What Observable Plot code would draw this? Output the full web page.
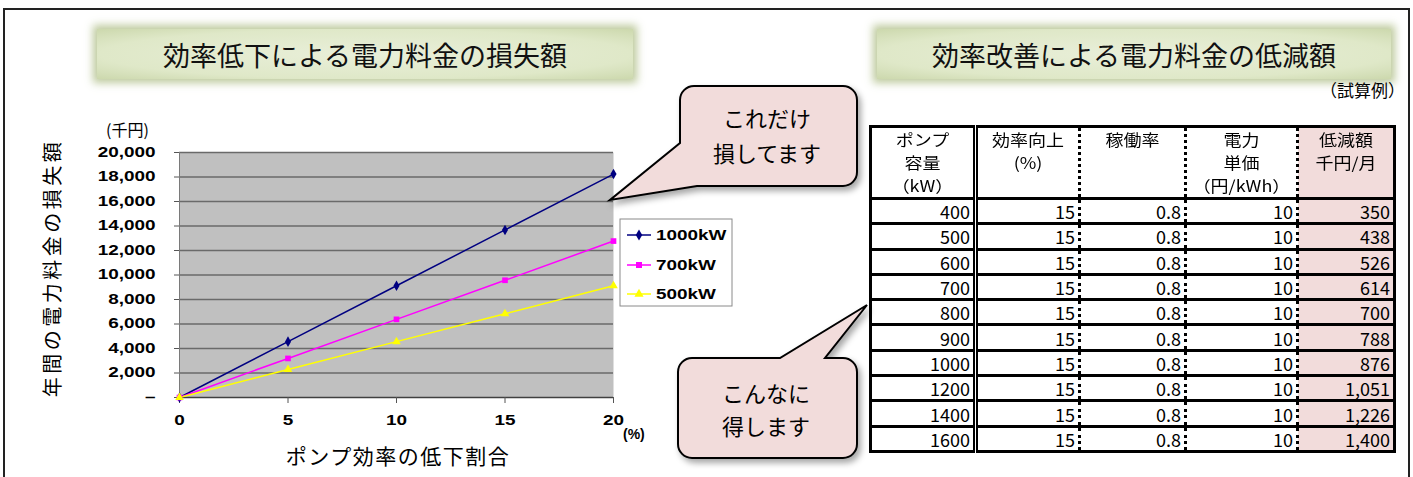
<!DOCTYPE html>
<html><head><meta charset="utf-8">
<script src="https://cdn.jsdelivr.net/npm/d3@7"></script>
<script src="https://cdn.jsdelivr.net/npm/@observablehq/plot@0.6"></script>
<style>
body{margin:0;background:#fff;}
#root{position:relative;width:1413px;height:477px;overflow:hidden;background:#fff;font-family:"Noto Sans CJK JP",sans-serif;}
.frame{position:absolute;left:3px;top:8px;width:1403px;height:500px;border:2px solid #222;}
.tbox{position:absolute;height:50px;background:radial-gradient(ellipse at center,#e9efd9 0%,#dfe8c8 70%,#ccd8ad 100%);box-shadow:0 0 8px 4px rgba(175,190,135,0.8);display:flex;align-items:center;justify-content:center;font-size:27px;color:#111;white-space:nowrap;}
#chart{position:absolute;left:0;top:0;}
#overlay{position:absolute;left:0;top:0;}
table{position:absolute;left:869px;top:125px;border-collapse:collapse;border:3px solid #000;table-layout:fixed;font-family:"Noto Sans CJK JP",sans-serif;}
th{font-weight:normal;font-size:18px;vertical-align:top;text-align:center;padding:0;height:66px;border-bottom:3px solid #000;white-space:nowrap;}
th div{height:23px;line-height:23px;}
th span{display:inline-block;transform:scaleY(0.88);}
td{border-top:3px solid #000;border-bottom:3px solid #000;padding:0 3px 0 0;height:22.3px;font-size:18px;line-height:20px;text-align:right;}
.c1{border-right:5px double #000;}
.c2,.c3,.c4{border-right:3px dotted #000;}
.c5{background:#f2dcdb;}
.note{position:absolute;right:8px;top:77px;font-size:17px;white-space:nowrap;}
</style></head>
<body>
<div id="root">
  <div class="frame"></div>
  <div class="tbox" style="left:97px;top:29px;width:536px;">効率低下による電力料金の損失額</div>
  <div class="tbox" style="left:877px;top:29px;width:514px;">効率改善による電力料金の低減額</div>
  <div class="note">（試算例）</div>
  <div id="chart"></div>
  <svg id="overlay" width="1413" height="477"></svg>
</div>
<script>
// ---- chart data ----
const pct = [0, 5, 10, 15, 20];
const series = ["1000kW", "700kW", "500kW"];
const loss1000 = [0, 4560, 9120, 13680, 18240];
const loss700 = [0, 3190, 6380, 9570, 12770];
const loss500 = [0, 2280, 4560, 6840, 9120];
const yTicks = [0, 2000, 4000, 6000, 8000, 10000, 12000, 14000, 16000, 18000, 20000];
const xTicks = [0, 5, 10, 15, 20];
const seriesColors = ["#000080", "#ff00ff", "#ffff00"];
const seriesSymbols = ["diamond", "square", "triangle"];

// ---- table data ----
const headers = [["ポンプ", "容量", "（kW）"], ["効率向上", "(%)"], ["稼働率"], ["電力", "単価", "（円/kWh）"], ["低減額", "千円/月"]];
const capacity = [400, 500, 600, 700, 800, 900, 1000, 1200, 1400, 1600];
const effUp = [15, 15, 15, 15, 15, 15, 15, 15, 15, 15];
const opRate = ["0.8", "0.8", "0.8", "0.8", "0.8", "0.8", "0.8", "0.8", "0.8", "0.8"];
const unitPrice = [10, 10, 10, 10, 10, 10, 10, 10, 10, 10];
const reduction = [350, 438, 526, 614, 700, 788, 876, 1051, 1226, 1400];
const colWidths = [105, 104, 106, 112, 97];

const lossBySeries = [loss1000, loss700, loss500];
const data = [];
series.forEach((s, i) => pct.forEach((p, j) => data.push({pct: p, loss: lossBySeries[i][j], series: s})));

const chart = Plot.plot({
  width: 760, height: 477,
  marginLeft: 179, marginRight: 147, marginTop: 152, marginBottom: 80,
  x: {domain: [0, 20]},
  y: {domain: [0, 20000]},
  color: {domain: series, range: seriesColors},
  symbol: {domain: series, range: seriesSymbols},
  style: {fontFamily: "'Liberation Sans', Arial, sans-serif", fontWeight: "bold", fontSize: "14px", color: "#000", background: "transparent"},
  marks: [
    Plot.frame({fill: "#c0c0c0", stroke: "none"}),
    Plot.ruleY(yTicks.filter(d => d > 0), {stroke: "#6a6a6a", strokeWidth: 1.4}),
    Plot.ruleX([0], {stroke: "#7a7a7a", strokeWidth: 1}),
    Plot.ruleY([0], {stroke: "#404040", strokeWidth: 1.5}),
    Plot.axisY({ticks: yTicks, tickSize: 5, tickPadding: 19, stroke: "#555", tickFormat: d => d === 0 ? "–" : d3.format(",")(d), label: null}),
    Plot.axisX({ticks: xTicks, tickSize: 6, tickPadding: 12, stroke: "#555", label: null}),
    Plot.line(data, {x: "pct", y: "loss", stroke: "series", z: "series", strokeWidth: 1.5}),
    Plot.dot(data, {x: "pct", y: "loss", fill: "series", symbol: "series", r: 3.2, stroke: "none"})
  ]
});
document.getElementById("chart").appendChild(chart);

function stretch(nodes, k) {
  nodes.forEach(t => {
    const L = t.getComputedTextLength();
    if (L > 0) { t.setAttribute("textLength", L * k); t.setAttribute("lengthAdjust", "spacingAndGlyphs"); }
  });
}
stretch(chart.querySelectorAll('g[aria-label="y-axis tick label"] text, g[aria-label="x-axis tick label"] text'), 1.35);

// ---- overlay: labels, legend, callouts ----
const ov = d3.select("#overlay");
const defs = ov.append("defs");
const f = defs.append("filter").attr("id", "sh").attr("x", "-20%").attr("y", "-20%").attr("width", "150%").attr("height", "150%");
f.append("feDropShadow").attr("dx", 3).attr("dy", 4).attr("stdDeviation", 3).attr("flood-color", "#000").attr("flood-opacity", 0.35);

ov.append("text").attr("x", 106).attr("y", 136).attr("font-size", 16).attr("font-family", "'Noto Sans CJK JP'").text("(千円)");
ov.append("text").attr("transform", "translate(60,268) rotate(-90)").attr("text-anchor", "middle")
  .attr("font-size", 20).attr("letter-spacing", 3.5).attr("font-family", "'Noto Sans CJK JP'").text("年間の電力料金の損失額");
ov.append("text").attr("x", 398).attr("y", 464).attr("text-anchor", "middle")
  .attr("font-size", 21).attr("letter-spacing", 1.5).attr("font-family", "'Noto Sans CJK JP'").text("ポンプ効率の低下割合");
ov.append("text").attr("x", 623).attr("y", 439).attr("font-size", 14).attr("font-weight", "bold")
  .attr("font-family", "'Liberation Sans', Arial").text("(%)");

// legend
const lg = ov.append("g");
lg.append("rect").attr("x", 620).attr("y", 219).attr("width", 112).attr("height", 87).attr("fill", "#fff").attr("stroke", "#8a8a8a");
const legY = [235, 265, 294];
const symGen = {diamond: d3.symbolDiamond, square: d3.symbolSquare, triangle: d3.symbolTriangle};
const legTexts = [];
series.forEach((s, i) => {
  lg.append("line").attr("x1", 627).attr("x2", 651).attr("y1", legY[i]).attr("y2", legY[i]).attr("stroke", seriesColors[i]).attr("stroke-width", 1.5);
  lg.append("path").attr("d", d3.symbol(symGen[seriesSymbols[i]], 36)()).attr("transform", `translate(639,${legY[i]})`).attr("fill", seriesColors[i]);
  legTexts.push(lg.append("text").attr("x", 656).attr("y", legY[i] + 5).attr("font-size", 14).attr("font-weight", "bold")
    .attr("font-family", "'Liberation Sans', Arial").text(s).node());
});
stretch(legTexts, 1.35);

// callouts
function callout(pathD, lines, cx, ys) {
  const g = ov.append("g");
  g.append("path").attr("d", pathD).attr("fill", "#f2dcdb").attr("stroke", "#000").attr("stroke-width", 2).attr("filter", "url(#sh)");
  lines.forEach((t, i) => g.append("text").attr("x", cx).attr("y", ys[i]).attr("text-anchor", "middle").attr("font-size", 22)
    .attr("font-family", "'Noto Sans CJK JP'").text(t));
}
(function () {
  const x0 = 680, x1 = 857, y0 = 86, y1 = 186, r = 14;
  const d = `M${x0 + r},${y0} H${x1 - r} A${r},${r} 0 0 1 ${x1},${y0 + r} V${y1 - r} A${r},${r} 0 0 1 ${x1 - r},${y1} H697 L610,200 L${x0},143 V${y0 + r} A${r},${r} 0 0 1 ${x0 + r},${y0} Z`;
  callout(d, ["これだけ", "損してます"], 767, [127, 162]);
})();
(function () {
  const x0 = 678, x1 = 857, y0 = 358, y1 = 458, r = 14;
  const d = `M${x0 + r},${y0} H780 L867,305 L825,${y0} H${x1 - r} A${r},${r} 0 0 1 ${x1},${y0 + r} V${y1 - r} A${r},${r} 0 0 1 ${x1 - r},${y1} H${x0 + r} A${r},${r} 0 0 1 ${x0},${y1 - r} V${y0 + r} A${r},${r} 0 0 1 ${x0 + r},${y0} Z`;
  callout(d, ["こんなに", "得します"], 766, [402, 435]);
})();

// ---- table ----
const table = d3.select("#root").append("table");
const cg = table.append("colgroup");
colWidths.forEach(w => cg.append("col").style("width", w + "px"));
const hr = table.append("tr");
headers.forEach((h, i) => {
  const th = hr.append("th").attr("class", "c" + (i + 1));
  h.forEach(line => th.append("div").append("span").text(line));
});
const fmt = d3.format(",");
capacity.forEach((c, i) => {
  const tr = table.append("tr");
  [c, effUp[i], opRate[i], unitPrice[i], fmt(reduction[i])].forEach((v, j) => tr.append("td").attr("class", "c" + (j + 1)).text(v));
});
</script>
</body></html>
